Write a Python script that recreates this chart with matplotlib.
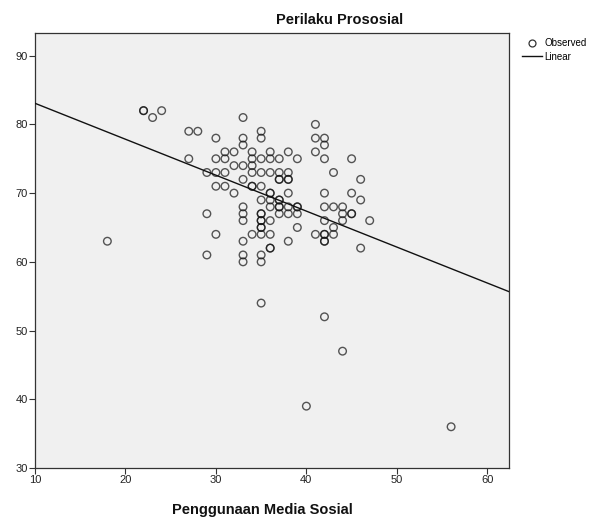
import numpy as np
import matplotlib
matplotlib.use("Agg")
import matplotlib.pyplot as plt
from matplotlib.lines import Line2D

plt.rcParams['font.family'] = ['Liberation Sans', 'DejaVu Sans']

# Penggunaan Media Sosial (x) vs Perilaku Prososial (y)
media_sosial = [18, 22, 22, 23, 24, 27, 28, 27, 29, 29, 29,
                30, 30, 30, 30, 30, 31, 31, 31, 31, 32, 32, 32,
                33, 33, 33, 33, 33, 33, 33, 33, 33, 33, 33,
                34, 34, 34, 34, 34, 34, 34,
                35, 35, 35, 35, 35, 35, 35, 35, 35, 35, 35, 35, 35, 35, 35, 35,
                36, 36, 36, 36, 36, 36, 36, 36, 36, 36, 36,
                37, 37, 37, 37, 37, 37, 37, 37, 37,
                38, 38, 38, 38, 38, 38, 38, 38,
                39, 39, 39, 39, 39,
                40,
                41, 41, 41, 41,
                42, 42, 42, 42, 42, 42, 42, 42, 42, 42, 42,
                43, 43, 43, 43,
                44, 44, 44, 44,
                45, 45, 45, 45,
                46, 46, 46,
                47,
                56]
perilaku = [63, 82, 82, 81, 82, 79, 79, 75, 73, 67, 61,
            78, 75, 73, 71, 64, 76, 75, 73, 71, 76, 74, 70,
            81, 78, 77, 74, 72, 68, 67, 66, 63, 61, 60,
            76, 75, 74, 73, 71, 71, 64,
            79, 78, 75, 73, 71, 69, 67, 67, 66, 66, 65, 65, 64, 61, 60, 54,
            76, 75, 73, 70, 70, 69, 68, 66, 64, 62, 62,
            75, 73, 72, 72, 69, 69, 68, 68, 67,
            76, 73, 72, 72, 70, 68, 67, 63,
            75, 68, 68, 67, 65,
            39,
            80, 78, 76, 64,
            78, 77, 75, 70, 68, 66, 64, 64, 63, 63, 52,
            73, 68, 65, 64,
            68, 67, 66, 47,
            75, 70, 67, 67,
            72, 69, 62,
            66,
            36]

x = np.array(media_sosial, dtype=float)
y = np.array(perilaku, dtype=float)
slope, intercept = np.polyfit(x, y, 1)

fig = plt.figure(figsize=(6, 5.22), dpi=100)
ax = fig.add_axes([35/600, 54/522, 474/600, 435/522])
ax.set_facecolor('#f0f0f0')

ax.scatter(x, y, s=30, facecolors='none', edgecolors='#111111',
           linewidths=1.0, alpha=0.7, zorder=3)

xl = np.array([10, 62.4])
ax.plot(xl, intercept + slope * xl, color='#111111', lw=1.0, zorder=4)

ax.set_xlim(10, 62.4)
ax.set_ylim(30, 93.3)
ax.set_xticks([10, 20, 30, 40, 50, 60])
ax.set_yticks([30, 40, 50, 60, 70, 80, 90])
ax.tick_params(labelsize=8, length=4, width=0.8, color='#333333',
               labelcolor='#222222', pad=1)
for s in ax.spines.values():
    s.set_color('#333333')
    s.set_linewidth(0.9)

fig.text(340/600, 1 - 20/522, 'Perilaku Prososial', ha='center', va='center',
         fontsize=10.5, fontweight='bold', color='#111111')
fig.text(262/600, 1 - 510/522, 'Penggunaan Media Sosial', ha='center',
         va='center', fontsize=10.5, fontweight='bold', color='#111111')

handles = [Line2D([], [], marker='o', ls='none', mfc='none', mec='#333333',
                  ms=5, mew=0.9),
           Line2D([], [], color='#111111', lw=1.0)]
fig.legend(handles, ['Observed', 'Linear'], loc='upper left',
           bbox_to_anchor=(522/600, 1 - 38/522), frameon=False, fontsize=7,
           handlelength=2.1, handletextpad=0.2, labelspacing=0.4,
           borderaxespad=0, borderpad=0)

fig.savefig('out.png', dpi=100)
